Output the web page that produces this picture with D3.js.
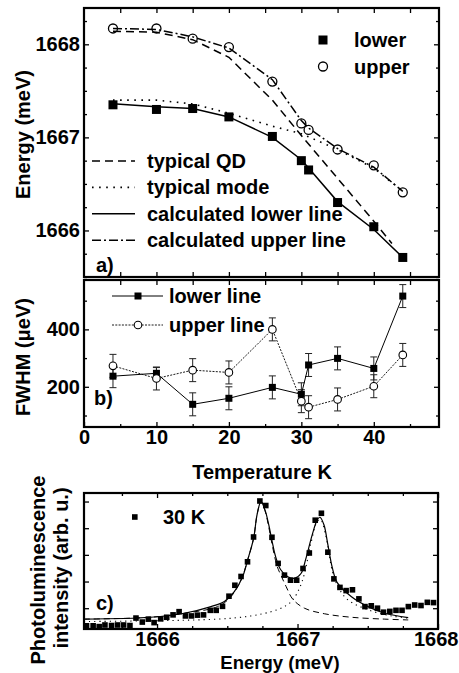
<!DOCTYPE html>
<html>
<head>
<meta charset="utf-8">
<script src="https://cdn.jsdelivr.net/npm/d3@7"></script>
<style>
  body { margin: 0; background: #fff; }
  text { font-family: "Liberation Sans", Arial, sans-serif; font-weight: bold; font-size: 20px; fill: #000; }
</style>
</head>
<body>
<svg id="chart" width="459" height="673"></svg>
<script>
// ---- panel a: peak energies vs temperature
const tempA = [4, 10, 15, 20, 26, 30, 31, 35, 40, 44];
const energyLower = [1667.35, 1667.30, 1667.31, 1667.22, 1667.01, 1666.75, 1666.65, 1666.30, 1666.04, 1665.71];
const energyUpper = [1668.17, 1668.17, 1668.06, 1667.97, 1667.60, 1667.15, 1667.08, 1666.87, 1666.70, 1666.41];
const calcLower = [1667.36, 1667.33, 1667.31, 1667.22, 1667.00, 1666.76, 1666.67, 1666.31, 1666.01, 1665.71];
const calcUpper = [1668.17, 1668.16, 1668.08, 1667.96, 1667.62, 1667.18, 1667.10, 1666.88, 1666.68, 1666.42];
const qdTemp = [4, 10, 15, 20, 26, 30, 35, 40, 42.5];
const qdEnergy = [1668.14, 1668.13, 1668.05, 1667.86, 1667.40, 1667.02, 1666.56, 1666.10, 1665.86];
const modeTemp = [4, 10, 15, 20, 26, 30, 35, 40, 44];
const modeEnergy = [1667.40, 1667.40, 1667.36, 1667.26, 1667.12, 1667.04, 1666.87, 1666.67, 1666.42];
const legendA = ["typical QD", "typical mode", "calculated lower line", "calculated upper line"];

// ---- panel b: linewidths
const tempB = [4, 10, 15, 20, 26, 30, 31, 35, 40, 44];
const fwhmLower = [237, 247, 139, 160, 198, 174, 276, 299, 264, 516];
const errLower = [40, 20, 40, 40, 40, 40, 40, 40, 40, 40];
const fwhmUpper = [273, 229, 258, 250, 400, 150, 129, 156, 202, 311];
const errUpper = [40, 40, 40, 40, 40, 40, 40, 40, 40, 40];

// ---- panel c: spectrum at 30 K
const specEnergy = [1665.498, 1665.545, 1665.588, 1665.629, 1665.676, 1665.719, 1665.762, 1665.807, 1665.850, 1665.895, 1665.938, 1665.979,
  1666.026, 1666.069, 1666.114, 1666.157, 1666.202, 1666.245, 1666.288, 1666.331, 1666.379, 1666.421, 1666.466, 1666.512, 1666.554, 1666.598,
  1666.644, 1666.687, 1666.732, 1666.774, 1666.818, 1666.862, 1666.907, 1666.950, 1666.994,
  1667.039, 1667.084, 1667.126, 1667.170, 1667.216, 1667.259, 1667.302, 1667.346, 1667.391, 1667.437, 1667.480, 1667.525, 1667.569,
  1667.612, 1667.657, 1667.701, 1667.744, 1667.789, 1667.834, 1667.879, 1667.924, 1667.968];
const specIntensity = [-0.66, -0.66, -0.69, -0.63, -0.65, -0.63, -0.63, -0.65, -0.37, -0.52, -0.41, -0.54,
  -0.40, -0.34, -0.25, -0.13, -0.29, -0.29, -0.26, -0.25, -0.08, -0.08, 0.07, 0.45, 0.86, 1.19,
  1.74, 2.67, 4.02, 3.85, 2.66, 1.68, 1.24, 1.05, 1.05,
  1.49, 2.07, 3.30, 3.56, 2.10, 1.10, 0.78, 0.66, 0.69, 0.35, 0.06, 0.09, 0.00,
  -0.15, -0.12, -0.08, -0.08, 0.06, 0.12, 0.10, 0.22, 0.21];
const fitTotalE = [1665.479, 1665.955, 1666.193, 1666.384, 1666.479, 1666.550, 1666.609, 1666.645, 1666.688, 1666.712, 1666.740,
  1666.771, 1666.795, 1666.819, 1666.843, 1666.879, 1666.931, 1666.979, 1667.026, 1667.057, 1667.105, 1667.141, 1667.159,
  1667.188, 1667.216, 1667.248, 1667.284, 1667.384, 1667.502, 1667.621, 1667.788];
const fitTotalI = [-0.41, -0.34, -0.19, 0.06, 0.25, 0.62, 1.18, 1.81, 2.64, 3.51, 4.00,
  3.64, 3.13, 2.51, 1.95, 1.45, 1.18, 1.12, 1.31, 1.81, 2.76, 3.32, 3.41,
  3.13, 2.38, 1.51, 0.95, 0.43, 0.06, -0.19, -0.35];
const fitLowE = [1665.479, 1665.955, 1666.193, 1666.431, 1666.526, 1666.598, 1666.645, 1666.688, 1666.712, 1666.740, 1666.771,
  1666.795, 1666.821, 1666.855, 1666.884, 1666.919, 1666.966, 1667.049, 1667.193, 1667.384, 1667.621, 1667.788];
const fitLowI = [-0.41, -0.34, -0.19, 0.06, 0.43, 1.06, 1.81, 2.64, 3.51, 4.00, 3.61,
  3.05, 2.34, 1.57, 1.21, 0.81, 0.34, 0.00, -0.21, -0.34, -0.41, -0.44];
const fitUpE = [1665.479, 1666.431, 1666.669, 1666.812, 1666.907, 1666.966, 1667.014, 1667.050, 1667.093, 1667.141, 1667.164,
  1667.200, 1667.248, 1667.293, 1667.359, 1667.502, 1667.669, 1667.788];
const fitUpI = [-0.50, -0.41, -0.29, -0.13, 0.06, 0.31, 0.75, 1.31, 2.38, 3.26, 3.32,
  2.76, 1.39, 0.76, 0.31, -0.06, -0.29, -0.37];

const svg = d3.select("#chart");

// scales
const xT = d3.scaleLinear().domain([0, 49]).range([84, 439]);
const yA = d3.scaleLinear().domain([1665.5, 1668.39]).range([277, 8]);
const yB = d3.scaleLinear().domain([60, 572]).range([427, 280]);
const xC = d3.scaleLinear().domain([1665.48, 1668.0]).range([84, 438]);
const yC = d3.scaleLinear().domain([-0.78, 4.32]).range([629, 493]);

// inward ticks, minor ones shorter
function addAxis(gen, tx, ty, values, isMajor, showLabel, pad) {
  const g = svg.append("g").attr("transform", `translate(${tx},${ty})`)
    .call(gen.tickValues(values).tickSizeInner(-5).tickSizeOuter(0).tickPadding(pad)
      .tickFormat(d => showLabel && isMajor(d) ? d : ""));
  g.attr("font-size", null).attr("font-family", null);
  g.select(".domain").remove();
  g.selectAll(".tick line").attr("stroke-width", 1.3).each(function(d) {
    if (isMajor(d)) return;
    const l = d3.select(this);
    ["x2", "y2"].forEach(a => { if (l.attr(a) !== null) l.attr(a, +l.attr(a) * 0.6); });
  });
  return g;
}

const isInt = d => Number.isInteger(d);
const tTicks = d3.range(5, 49, 5);
const tTicksB = d3.range(0, 49, 5);
const eTicksA = d3.range(0, 12).map(i => 1665.5 + i * 0.25);
const fTicks = [100, 200, 300, 400, 500];
const eTicksC = d3.range(1, 11).map(i => 1665.5 + i * 0.25);
const iTicks = [0, 1, 2, 3, 4];

// panel a axes
addAxis(d3.axisLeft(yA), 84, 0, eTicksA, isInt, true, 4);
addAxis(d3.axisRight(yA), 439, 0, eTicksA, isInt, false, 4);
addAxis(d3.axisTop(xT), 0, 8, tTicks, d => true, false, 4);
addAxis(d3.axisBottom(xT), 0, 277, tTicks, d => true, false, 4);

// panel b axes
addAxis(d3.axisLeft(yB), 84, 0, fTicks, d => d % 200 === 0, true, 4);
addAxis(d3.axisRight(yB), 439, 0, fTicks, d => d % 200 === 0, false, 4);
addAxis(d3.axisTop(xT), 0, 280, tTicks, d => true, false, 4);
addAxis(d3.axisBottom(xT), 0, 427, tTicksB, d => d % 10 === 0, true, 3);

// panel c axes
addAxis(d3.axisLeft(yC), 84, 0, iTicks, d => true, false, 4);
addAxis(d3.axisRight(yC), 438, 0, iTicks, d => true, false, 4);
addAxis(d3.axisTop(xC), 0, 493, eTicksC, isInt, false, 4);
const gcx = addAxis(d3.axisBottom(xC), 0, 629, eTicksC, isInt, true, 3);
// last label kept inside the picture
gcx.selectAll(".tick text").filter(d => d === 1668).attr("text-anchor", "end").attr("x", 20);

// frames
[[84, 8, 355, 269], [84, 280, 355, 147], [84, 493, 354, 136]].forEach(r => {
  svg.append("rect").attr("x", r[0]).attr("y", r[1]).attr("width", r[2]).attr("height", r[3])
    .attr("fill", "none").attr("stroke", "#000").attr("stroke-width", 2.2);
});

// ---- panel a
const lineA = (xs, ys) => d3.line().x((d, i) => xT(xs[i])).y(d => yA(d))(ys);
const styleA = [
  { dash: "8,5", w: 1.5 },
  { dash: "1.6,5.5", w: 1.6 },
  { dash: null, w: 1.5 },
  { dash: "9,3,2,3", w: 1.5 }
];
const seriesA = [[qdTemp, qdEnergy], [modeTemp, modeEnergy], [tempA, calcLower], [tempA, calcUpper]];
seriesA.forEach((s, k) => {
  svg.append("path").attr("d", lineA(s[0], s[1])).attr("fill", "none").attr("stroke", "#000")
    .attr("stroke-width", styleA[k].w).attr("stroke-dasharray", styleA[k].dash);
});
svg.append("g").selectAll("rect").data(energyLower).join("rect")
  .attr("x", (d, i) => xT(tempA[i]) - 4.5).attr("y", d => yA(d) - 4.5)
  .attr("width", 9).attr("height", 9).attr("fill", "#000");
svg.append("g").selectAll("circle").data(energyUpper).join("circle")
  .attr("cx", (d, i) => xT(tempA[i])).attr("cy", d => yA(d)).attr("r", 4.5)
  .attr("fill", "none").attr("stroke", "#000").attr("stroke-width", 1.3);

// legend a
svg.append("rect").attr("x", 318.5).attr("y", 35.5).attr("width", 9).attr("height", 9).attr("fill", "#000");
svg.append("text").attr("x", 354).attr("y", 40).attr("dy", "0.35em").text("lower");
svg.append("circle").attr("cx", 323).attr("cy", 66.5).attr("r", 4.5).attr("fill", "none").attr("stroke", "#000").attr("stroke-width", 1.3);
svg.append("text").attr("x", 354).attr("y", 66.5).attr("dy", "0.35em").text("upper");
legendA.forEach((t, k) => {
  const y = 161 + k * 26.4;
  svg.append("line").attr("x1", 92).attr("x2", 135).attr("y1", y).attr("y2", y)
    .attr("stroke", "#000").attr("stroke-width", styleA[k].w).attr("stroke-dasharray", styleA[k].dash);
  svg.append("text").attr("x", 147).attr("y", y).attr("dy", "0.35em").text(t);
});
svg.append("text").attr("x", 96).attr("y", 272).text("a)");

svg.append("text").attr("transform", "translate(30,134.5) rotate(-90)")
  .attr("text-anchor", "middle").text("Energy (meV)");

// ---- panel b
const lineB = d3.line().x((d, i) => xT(tempB[i])).y(d => yB(d));
[[fwhmLower, errLower], [fwhmUpper, errUpper]].forEach(s => {
  s[0].forEach((v, i) => {
    const x = xT(tempB[i]);
    const g = svg.append("g").attr("stroke", "#222").attr("stroke-width", 1);
    g.append("line").attr("x1", x).attr("x2", x).attr("y1", yB(v - s[1][i])).attr("y2", yB(v + s[1][i]));
    g.append("line").attr("x1", x - 3.5).attr("x2", x + 3.5).attr("y1", yB(v - s[1][i])).attr("y2", yB(v - s[1][i]));
    g.append("line").attr("x1", x - 3.5).attr("x2", x + 3.5).attr("y1", yB(v + s[1][i])).attr("y2", yB(v + s[1][i]));
  });
});
svg.append("path").attr("d", lineB(fwhmLower)).attr("fill", "none").attr("stroke", "#000").attr("stroke-width", 1);
svg.append("path").attr("d", lineB(fwhmUpper)).attr("fill", "none").attr("stroke", "#000").attr("stroke-width", 0.9)
  .attr("stroke-dasharray", "2,1.3");
svg.append("g").selectAll("rect").data(fwhmLower).join("rect")
  .attr("x", (d, i) => xT(tempB[i]) - 3.5).attr("y", d => yB(d) - 3.5)
  .attr("width", 7).attr("height", 7).attr("fill", "#000");
svg.append("g").selectAll("circle").data(fwhmUpper).join("circle")
  .attr("cx", (d, i) => xT(tempB[i])).attr("cy", d => yB(d)).attr("r", 3.8)
  .attr("fill", "#fff").attr("stroke", "#000").attr("stroke-width", 1.1);

// legend b
svg.append("line").attr("x1", 112).attr("x2", 163).attr("y1", 296).attr("y2", 296).attr("stroke", "#000").attr("stroke-width", 1);
svg.append("rect").attr("x", 134.5).attr("y", 292.5).attr("width", 7).attr("height", 7).attr("fill", "#000");
svg.append("text").attr("x", 169).attr("y", 296).attr("dy", "0.35em").text("lower line");
svg.append("line").attr("x1", 112).attr("x2", 163).attr("y1", 325).attr("y2", 325).attr("stroke", "#000")
  .attr("stroke-width", 0.9).attr("stroke-dasharray", "2,1.3");
svg.append("circle").attr("cx", 138).attr("cy", 325).attr("r", 3.8).attr("fill", "#fff").attr("stroke", "#000").attr("stroke-width", 1.1);
svg.append("text").attr("x", 169).attr("y", 325).attr("dy", "0.35em").text("upper line");
svg.append("text").attr("x", 94).attr("y", 405).text("b)");

svg.append("text").attr("transform", "translate(30,357) rotate(-90)")
  .attr("text-anchor", "middle").text("FWHM (\u03BCeV)");
svg.append("text").attr("x", 262).attr("y", 479).attr("text-anchor", "middle").text("Temperature K");

// ---- panel c
const lineC = (xs, ys) => d3.line().curve(d3.curveCatmullRom.alpha(0.5))
  .x((d, i) => xC(xs[i])).y(d => yC(d))(ys);
svg.append("path").attr("d", lineC(fitLowE, fitLowI)).attr("fill", "none").attr("stroke", "#000")
  .attr("stroke-width", 1).attr("stroke-dasharray", "6,4");
svg.append("path").attr("d", lineC(fitUpE, fitUpI)).attr("fill", "none").attr("stroke", "#000")
  .attr("stroke-width", 1.1).attr("stroke-dasharray", "1.2,4");
svg.append("path").attr("d", lineC(fitTotalE, fitTotalI)).attr("fill", "none").attr("stroke", "#000")
  .attr("stroke-width", 1.2);
svg.append("g").selectAll("rect").data(specIntensity).join("rect")
  .attr("x", (d, i) => xC(specEnergy[i]) - 2.8).attr("y", d => yC(d) - 2.8)
  .attr("width", 5.6).attr("height", 5.6).attr("fill", "#000");

svg.append("rect").attr("x", 132).attr("y", 514.2).attr("width", 5.6).attr("height", 5.6).attr("fill", "#000");
svg.append("text").attr("x", 163).attr("y", 517).attr("dy", "0.35em").text("30 K");
svg.append("text").attr("x", 96).attr("y", 610).text("c)");

svg.append("text").attr("transform", "translate(45,570) rotate(-90)")
  .attr("text-anchor", "middle").text("Photoluminescence");
svg.append("text").attr("transform", "translate(68,568) rotate(-90)")
  .attr("text-anchor", "middle").text("intensity (arb. u.)");
svg.append("text").attr("x", 280).attr("y", 669).attr("text-anchor", "middle")
  .style("font-size", "18.5px").text("Energy (meV)");
</script>
</body>
</html>
